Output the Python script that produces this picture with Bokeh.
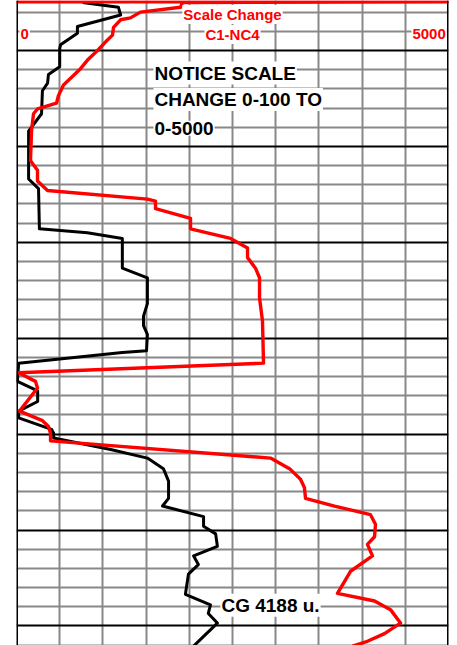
from bokeh.plotting import figure
from bokeh.models import Range1d, FixedTicker, Grid, Label, Span
from bokeh.embed import file_html
from bokeh.resources import INLINE

# ---------------- data ----------------
# depth window (ft)
DEPTH_TOP = 4504.79
DEPTH_BOTTOM = 4572.04

# black curve: gas, 0-100 scale
cg_depth = [4505.0, 4505.5, 4506.3, 4507.5, 4508.2, 4509.4, 4509.8, 4511.7, 4512.5, 4513.4,
            4514.2, 4516.6, 4518.4, 4523.4, 4524.4, 4528.6, 4529.0, 4529.6, 4532.7, 4533.7,
            4536.4, 4537.7, 4538.7, 4539.6, 4541.3, 4541.5, 4542.6, 4544.5, 4545.5, 4546.6,
            4547.6, 4548.3, 4549.5, 4549.9, 4550.4, 4551.6, 4552.5, 4553.6, 4554.9, 4556.7,
            4557.5, 4558.6, 4559.6, 4560.4, 4561.7, 4562.7, 4563.6, 4564.6, 4566.7, 4567.8,
            4568.7, 4569.7, 4571.4, 4572.1]
cg_units = [15.3, 23.6, 24.1, 14.1, 14.1, 10.2, 10.0, 10.0, 7.4, 7.2,
            6.0, 5.8, 2.8, 2.8, 5.1, 5.3, 16.4, 24.5, 24.5, 30.3,
            30.3, 29.4, 29.4, 30.3, 30.1, 24.5, 0.5, 0.2, 4.9, 4.9,
            0.5, 0.5, 8.1, 8.6, 8.6, 21.8, 30.3, 34.0, 35.2, 35.2,
            33.8, 43.3, 43.3, 46.1, 46.5, 41.0, 42.1, 39.8, 39.1, 44.9,
            44.4, 46.5, 42.6, 41.0]

# red curve: C1-NC4, 0-5000 scale (pegged at full scale on top)
c1nc4_depth = [4504.93, 4504.93, 4505.0, 4505.5, 4506.0, 4506.6, 4506.8, 4507.6, 4508.4, 4508.9,
               4510.0, 4511.0, 4511.9, 4513.6, 4514.7, 4515.5, 4516.1, 4516.6, 4518.4, 4521.5,
               4522.5, 4523.6, 4524.6, 4525.5, 4525.7, 4526.5, 4527.5, 4528.6, 4529.6, 4530.6,
               4531.6, 4532.7, 4533.7, 4535.8, 4538.2, 4542.6, 4543.6, 4544.5, 4545.2, 4547.6,
               4548.6, 4549.2, 4549.9, 4550.7, 4552.5, 4553.6, 4554.7, 4555.6, 4556.7, 4557.5,
               4558.4, 4559.4, 4560.7, 4561.5, 4562.7, 4564.3, 4566.6, 4567.4, 4568.3, 4569.7,
               4570.8, 4571.6, 4572.1]
c1nc4_units = [0, 5000, 1921, 1898, 1435, 1319, 1204, 1123, 1111, 1053,
               938, 822, 741, 544, 486, 463, 243, 197, 174, 162,
               243, 243, 359, 1516, 1609, 1609, 2014, 2014, 2477, 2674,
               2674, 2766, 2813, 2813, 2847, 2859, 23, 220, 243, 35,
               301, 370, 394, 394, 2940, 3160, 3287, 3333, 3345, 3681,
               4097, 4155, 4144, 4062, 4120, 3866, 3715, 4144, 4329, 4444,
               4259, 4062, 3889]

grid_minor = [d for d in range(4506, 4573, 2) if d % 10 != 0]
grid_major = list(range(4510, 4571, 10))
grid_vert = [10, 20, 30, 40, 50, 60, 70, 80, 90]

FONT = "Liberation Sans"

# ---------------- figure ----------------
p = figure(width=457, height=645, x_range=Range1d(0, 100),
           y_range=Range1d(DEPTH_BOTTOM, DEPTH_TOP),
           x_axis_location=None, y_axis_location=None,
           output_backend="svg", toolbar_location=None,
           min_border_left=16, min_border_right=9,
           min_border_top=0, min_border_bottom=0)
p.extra_x_ranges = {"c1nc4": Range1d(0, 5000)}
p.outline_line_color = None
p.background_fill_color = "white"
p.border_fill_color = "white"

gminor = Grid(dimension=1, ticker=FixedTicker(ticks=grid_minor),
              grid_line_color="#888888", grid_line_width=2)
gvert = Grid(dimension=0, ticker=FixedTicker(ticks=grid_vert),
             grid_line_color="#888888", grid_line_width=2)
gmajor = Grid(dimension=1, ticker=FixedTicker(ticks=grid_major),
              grid_line_color="black", grid_line_width=2)
p.add_layout(gminor)
p.add_layout(gvert)
p.add_layout(gmajor)

p.add_layout(Span(location=0, dimension="height", line_color="black", line_width=3))
p.add_layout(Span(location=100, dimension="height", line_color="black", line_width=3))

p.line(cg_units, cg_depth, line_color="black", line_width=3, line_join="round")
p.line(c1nc4_units, c1nc4_depth, line_color="#ff0000", line_width=3.4,
       line_join="round", x_range_name="c1nc4")


def lab(text, x, y, size, color, align):
    return Label(x=x, y=y, text=text, text_font=FONT, text_font_size=f"{size}px",
                 text_font_style="bold", text_color=color, text_align=align,
                 text_baseline="alphabetic", background_fill_color="white",
                 padding=1)


p.add_layout(lab("Scale Change", 50, 4506.24, 15, "#ff0000", "center"))
p.add_layout(lab("C1-NC4", 50, 4508.33, 15, "#ff0000", "center"))
p.add_layout(lab("0", 0.7, 4508.33, 15, "#ff0000", "left"))
p.add_layout(lab("5000", 99.6, 4508.33, 15, "#ff0000", "right"))

p.add_layout(lab("NOTICE SCALE", 31.7, 4512.35, 19, "black", "left"))
p.add_layout(lab("CHANGE 0-100 TO", 31.7, 4515.12, 19, "black", "left"))
p.add_layout(lab("0-5000", 31.7, 4518.1, 19, "black", "left"))

p.add_layout(lab("CG 4188 u.", 47.2, 4567.85, 19, "black", "left"))

open("out.html", "w").write(file_html(p, INLINE))
